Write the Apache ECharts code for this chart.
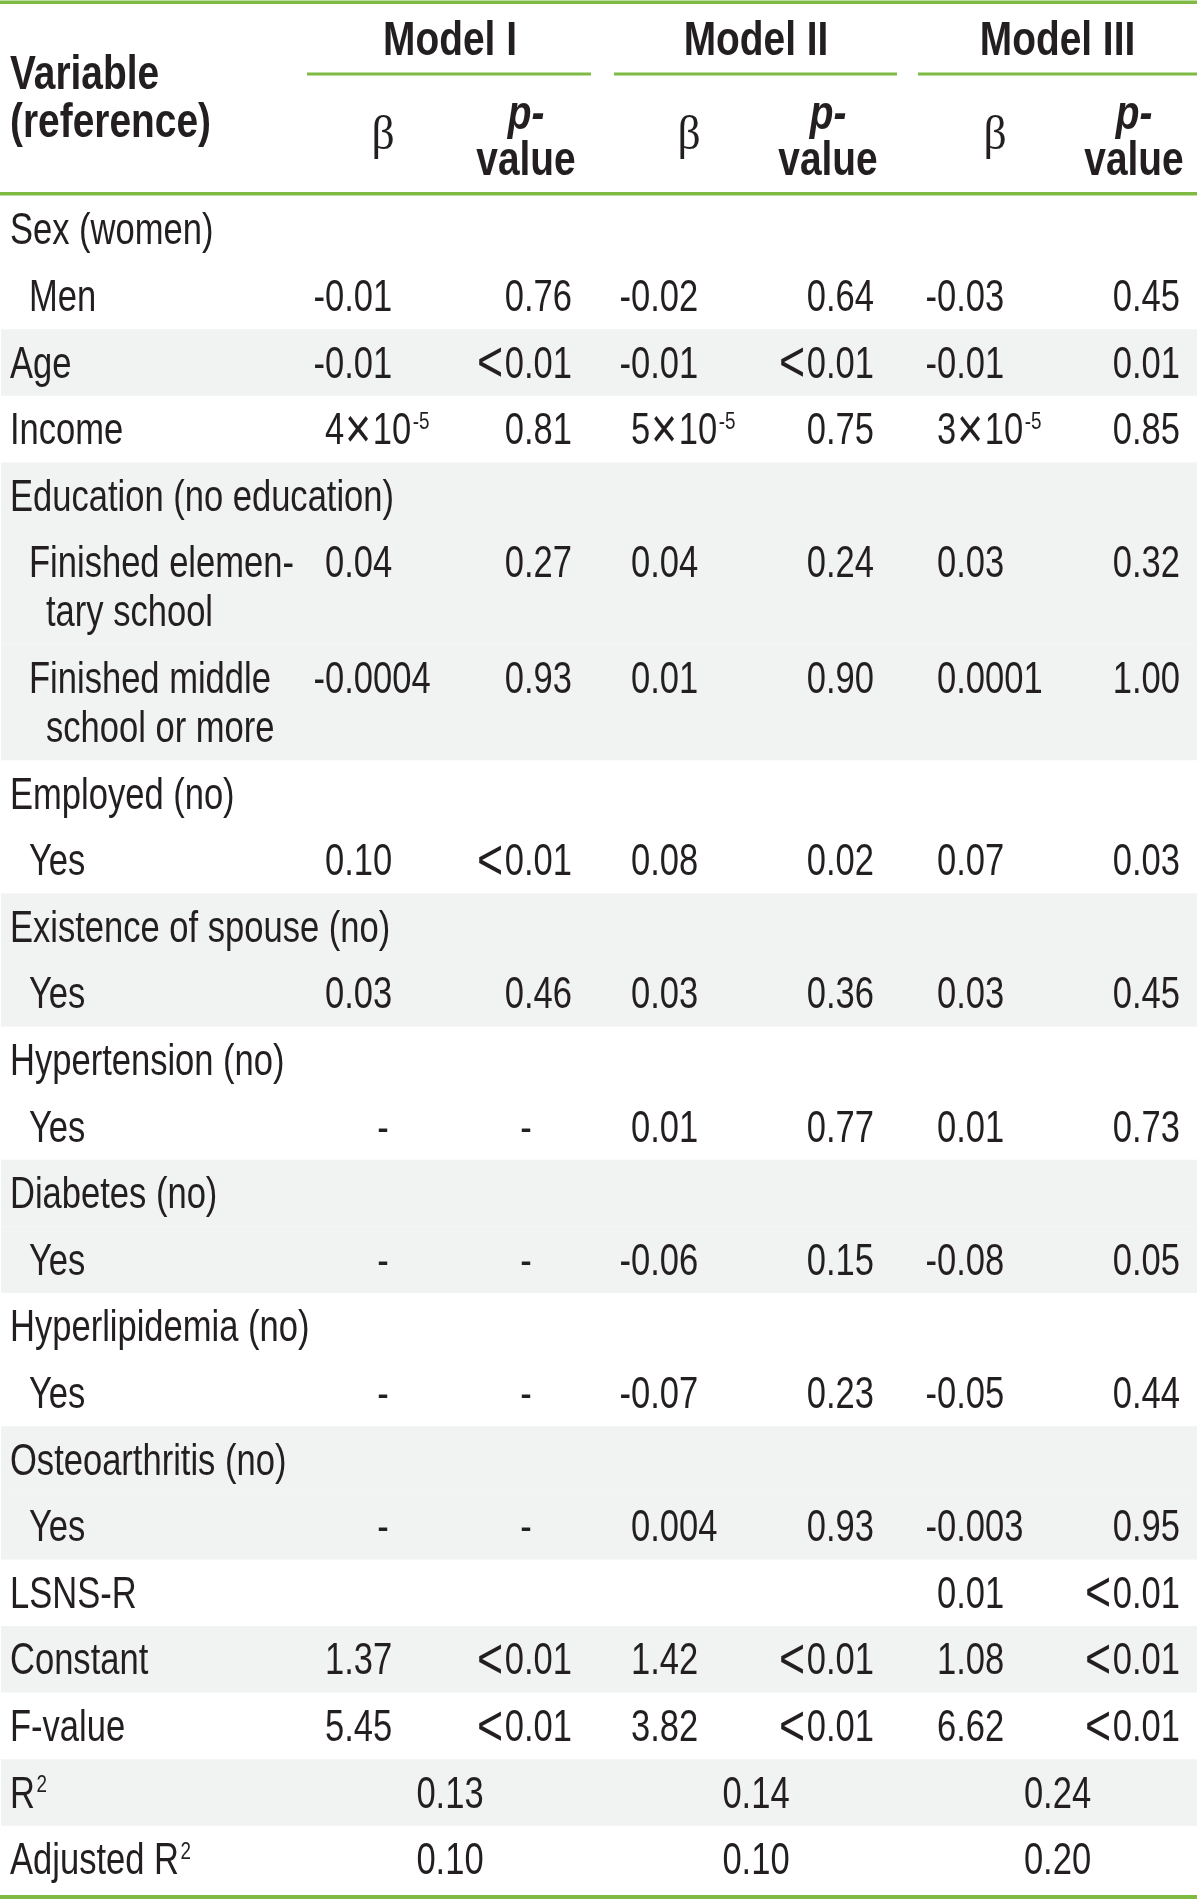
<!DOCTYPE html>
<html><head><meta charset="utf-8">
<script src="https://cdn.jsdelivr.net/npm/echarts@6/dist/echarts.min.js"></script>
<style>html,body{margin:0;padding:0;background:#fff}#chart{width:1200px;height:1899px}</style>
</head><body><div id="chart"></div>
<script>
// ---------------- DATA ----------------
const modelNames = ['Model I', 'Model II', 'Model III'];
const headerVariable = ['Variable', '(reference)'];
const headerBeta = 'β';
const headerP = ['p-', 'value'];

const rowLabels = ['Sex (women)', 'Men', 'Age', 'Income', 'Education (no education)',
  'Finished elemen-\ntary school', 'Finished middle\nschool or more', 'Employed (no)', 'Yes',
  'Existence of spouse (no)', 'Yes', 'Hypertension (no)', 'Yes', 'Diabetes (no)', 'Yes',
  'Hyperlipidemia (no)', 'Yes', 'Osteoarthritis (no)', 'Yes', 'LSNS-R', 'Constant', 'F-value',
  'R^2', 'Adjusted R^2'];
const rowIndent = [0,1,0,0,0,1,1,0,1,0,1,0,1,0,1,0,1,0,1,0,0,0,0,0];
const rowShaded = [0,0,1,0,1,1,1,0,0,1,1,0,0,1,1,0,0,1,1,0,1,0,1,0];

const betaModelI   = ['', '-0.01', '-0.01', '4×10^-5', '', '0.04', '-0.0004', '', '0.10', '', '0.03', '', '-', '', '-', '', '-', '', '-', '', '1.37', '5.45', '', ''];
const pModelI      = ['', '0.76', '<0.01', '0.81', '', '0.27', '0.93', '', '<0.01', '', '0.46', '', '-', '', '-', '', '-', '', '-', '', '<0.01', '<0.01', '', ''];
const betaModelII  = ['', '-0.02', '-0.01', '5×10^-5', '', '0.04', '0.01', '', '0.08', '', '0.03', '', '0.01', '', '-0.06', '', '-0.07', '', '0.004', '', '1.42', '3.82', '', ''];
const pModelII     = ['', '0.64', '<0.01', '0.75', '', '0.24', '0.90', '', '0.02', '', '0.36', '', '0.77', '', '0.15', '', '0.23', '', '0.93', '', '<0.01', '<0.01', '', ''];
const betaModelIII = ['', '-0.03', '-0.01', '3×10^-5', '', '0.03', '0.0001', '', '0.07', '', '0.03', '', '0.01', '', '-0.08', '', '-0.05', '', '-0.003', '0.01', '1.08', '6.62', '', ''];
const pModelIII    = ['', '0.45', '0.01', '0.85', '', '0.32', '1.00', '', '0.03', '', '0.45', '', '0.73', '', '0.05', '', '0.44', '', '0.95', '<0.01', '<0.01', '<0.01', '', ''];
const rSquared     = ['0.13', '0.14', '0.24'];
const adjRSquared  = ['0.10', '0.10', '0.20'];

// ---------------- LAYOUT / STYLE ----------------
const W = 1200, H = 1899;
const GREEN = '#7fbb43', GRAY = '#f1f2f2', INK = '#231f20';
const BODY_FONT = "'Liberation Sans',Arial,sans-serif";
const BODY_SIZE = 44, HEAD_SIZE = 48;
const BODY_SX = 0.785, HEAD_SX = 0.81;
const TEXT_DY = 3;
const L = {
  bodyTop: 196, rowH: 66.6, extraLine: 49, lineOff: 24.5,
  labelX: 10, indentX: 29, contX: 46,
  betaX: [325, 631, 937], minusW: 11.5, betaHeadOff: 58,
  pRight: [572, 874, 1180], pHeadOff: 46,
  modelCenter: [450, 756, 1057.5],
  modelLine: [[307, 591], [614, 897], [918, 1197]],
  tableRight: 1197
};
const betaCols = [betaModelI, betaModelII, betaModelIII];
const pCols = [pModelI, pModelII, pModelIII];

// row geometry
const rowTop = [], rowBot = [];
(function () {
  let y = L.bodyTop;
  rowLabels.forEach(lbl => {
    const n = lbl.split('\n').length;
    rowTop.push(y);
    y += L.rowH + (n - 1) * L.extraLine;
    rowBot.push(y);
  });
})();

// typographic display of a stored string
function richify(t) {
  return t.replace(/\^(\S+)/, '{s|$1}')
          .replace('×', '{m|×}')
          .replace(/^</, '{m|<}');
}

// ---------------- CELLS ----------------
const cells = [];
function add(x, y, text, align, opt) {
  cells.push(Object.assign({ x, y: y + TEXT_DY, text: richify(text), align,
    size: BODY_SIZE, family: BODY_FONT, weight: 'normal', fstyle: 'normal', sx: BODY_SX }, opt || {}));
}
const HEAD = { size: HEAD_SIZE, weight: 'bold', sx: HEAD_SX };
// header
modelNames.forEach((m, k) => {
  add(L.modelCenter[k], 39, m, 'center', HEAD);
  add(L.betaX[k] + L.betaHeadOff, 133, headerBeta, 'center', { size: 48, family: "'Liberation Serif',serif", sx: 0.95 });
  add(L.pRight[k] - L.pHeadOff, 113, headerP[0], 'center', Object.assign({}, HEAD, { fstyle: 'italic' }));
  add(L.pRight[k] - L.pHeadOff, 159, headerP[1], 'center', HEAD);
});
add(L.labelX, 73, headerVariable[0], 'left', HEAD);
add(L.labelX, 121, headerVariable[1], 'left', HEAD);

// body
rowLabels.forEach((lbl, i) => {
  const lines = lbl.split('\n');
  const c = (rowTop[i] + rowBot[i]) / 2;
  const y0 = lines.length > 1 ? c - L.lineOff : c;
  lines.forEach((ln, j) => {
    const x = rowIndent[i] ? (j === 0 ? L.indentX : L.contX) : L.labelX;
    add(x, y0 + j * 2 * L.lineOff, ln, 'left');
  });
  if (lbl === 'R^2' || lbl === 'Adjusted R^2') {
    const vals = lbl === 'R^2' ? rSquared : adjRSquared;
    vals.forEach((v, k) => add(L.modelCenter[k], y0, v, 'center'));
    return;
  }
  for (let k = 0; k < 3; k++) {
    const b = betaCols[k][i], p = pCols[k][i];
    if (b === '-') add(L.betaX[k] + L.betaHeadOff, y0, b, 'center');
    else if (b) add(b[0] === '-' ? L.betaX[k] - L.minusW : L.betaX[k], y0, b, 'left');
    if (p === '-') add(L.pRight[k] - L.pHeadOff, y0, p, 'center');
    else if (p) add(L.pRight[k], y0, p, 'right');
  }
});

// rules and shading
const rects = [];
rowShaded.forEach((s, i) => { if (s) rects.push([1, L.tableRight, rowTop[i], rowBot[i], GRAY]); });
rects.push([0, L.tableRight, 0.5, 4, GREEN]);
L.modelLine.forEach(m => rects.push([m[0], m[1], 72.5, 75.5, GREEN]));
rects.push([0, L.tableRight, 192, 195.5, GREEN]);
rects.push([0, L.tableRight, 1895, 1899, GREEN]);

// ---------------- CHART ----------------
const chart = echarts.init(document.getElementById('chart'), null, { renderer: 'canvas' });
chart.setOption({
  animation: false,
  backgroundColor: '#ffffff',
  grid: { left: 0, right: 0, top: 0, bottom: 0 },
  xAxis: { type: 'value', min: 0, max: W, show: false },
  yAxis: { type: 'value', min: 0, max: H, inverse: true, show: false },
  series: [
    {
      type: 'custom', coordinateSystem: 'cartesian2d', silent: true, z: 1,
      data: rects.map(r => [r[0], r[2]]),
      renderItem(params, api) {
        const r = rects[params.dataIndex];
        const a = api.coord([r[0], r[2]]), b = api.coord([r[1], r[3]]);
        return { type: 'rect', shape: { x: a[0], y: a[1], width: b[0] - a[0], height: b[1] - a[1] },
          style: { fill: r[4] } };
      }
    },
    {
      type: 'custom', coordinateSystem: 'cartesian2d', silent: true, z: 2,
      data: cells.map(c => [c.x, c.y]),
      renderItem(params, api) {
        const c = cells[params.dataIndex];
        const p = api.coord([c.x, c.y]);
        return { type: 'text', x: p[0], y: p[1], scaleX: c.sx, scaleY: 1, style: {
          text: c.text, fill: INK, fontSize: c.size, fontFamily: c.family,
          fontWeight: c.weight, fontStyle: c.fstyle, align: c.align, verticalAlign: 'middle',
          rich: {
            s: { fontSize: Math.round(c.size * 0.55), fontFamily: c.family, fill: INK, verticalAlign: 'top', padding: [0, 0, 0, 2] },
            m: { fontSize: Math.round(c.size * 1.3), lineHeight: c.size, fontFamily: c.family, fill: INK, padding: [0, 2, 0, 1] }
          }
        } };
      }
    }
  ]
});
</script></body></html>
